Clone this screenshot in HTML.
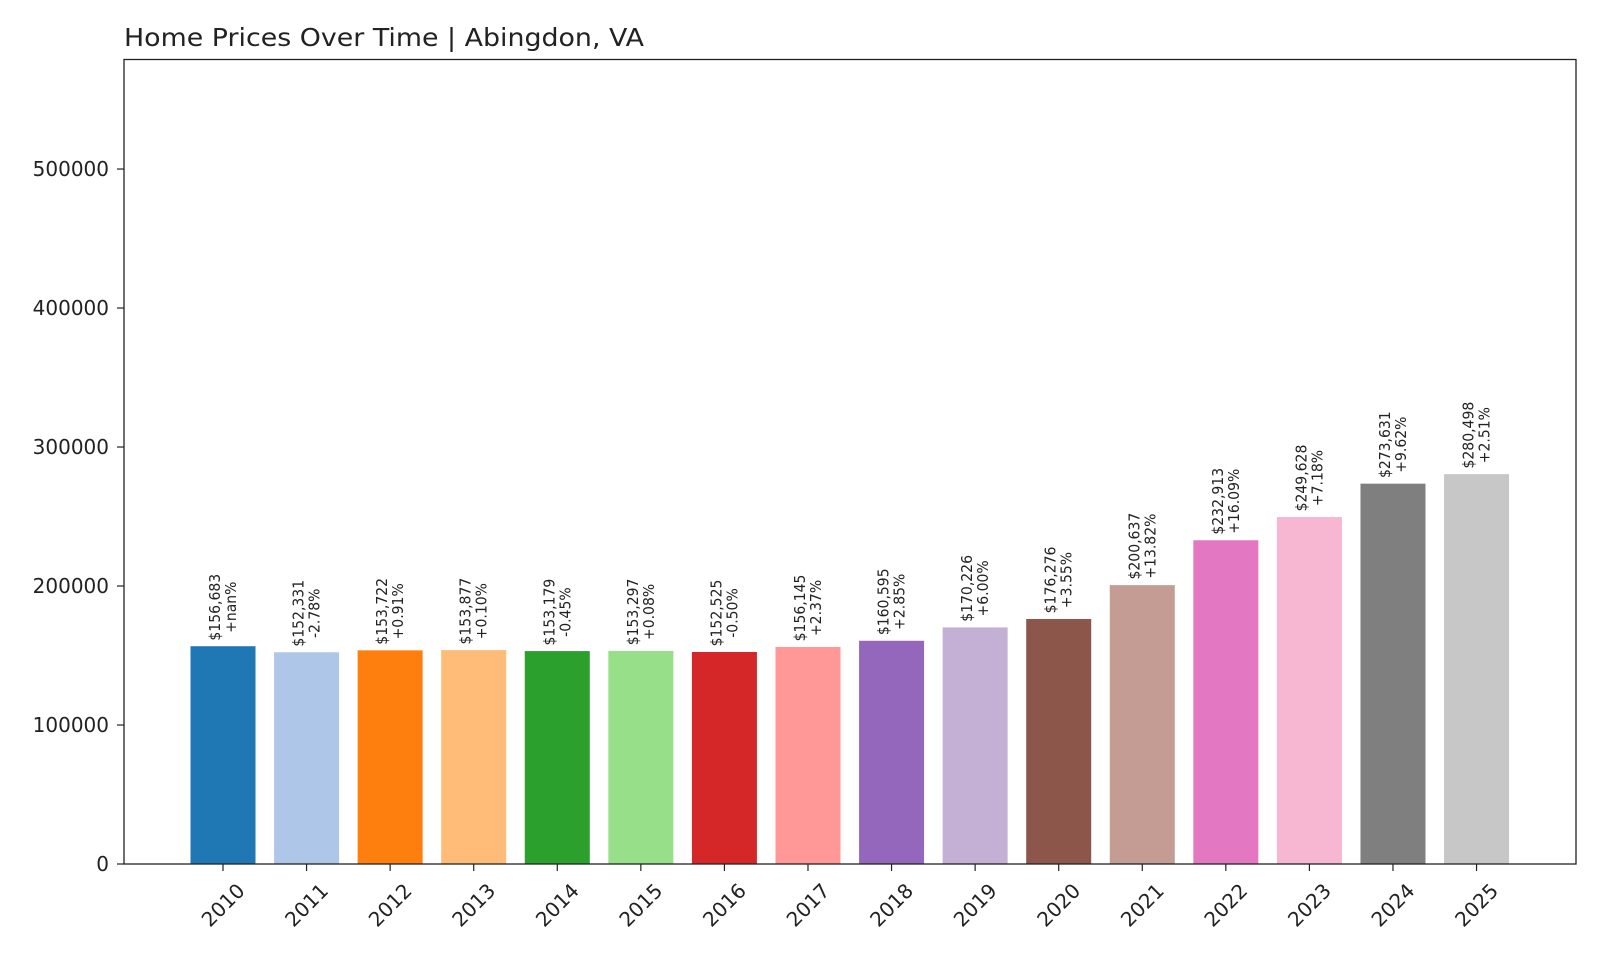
<!DOCTYPE html>
<html><head><meta charset="utf-8"><style>
body{margin:0;background:#fff;}
svg{display:block;font-family:"DejaVu Sans","Liberation Sans",sans-serif;}
</style></head><body>
<svg id="chart" width="1600" height="960" viewBox="0 0 1600 960" xmlns="http://www.w3.org/2000/svg">
<rect width="1600" height="960" fill="#fff"/>
<text x="124" y="46" font-size="25" fill="#222" textLength="520" lengthAdjust="spacingAndGlyphs">Home Prices Over Time | Abingdon, VA</text>
<g id="bars"></g>
<g id="yaxis"></g>
<g id="xaxis"></g>
<rect x="124" y="59.5" width="1452" height="804.5" fill="none" stroke="#222" stroke-width="1.3"/>
</svg>
<script>
const years = ['2010','2011','2012','2013','2014','2015','2016','2017','2018','2019','2020','2021','2022','2023','2024','2025'];
const prices = [156683,152331,153722,153877,153179,153297,152525,156145,160595,170226,176276,200637,232913,249628,273631,280498];
const yTicks = [0,100000,200000,300000,400000,500000];
const colors = ['#1f77b4','#aec7e8','#ff7f0e','#ffbb78','#2ca02c','#98df8a','#d62728','#ff9896','#9467bd','#c5b0d5','#8c564b','#c49c94','#e377c2','#f7b6d2','#7f7f7f','#c7c7c7'];
const NS='http://www.w3.org/2000/svg';
const x0=223, step=83.57, bw=65, yBase=864, yMax=578800, plotH=864-59.5;
function xs(i){return x0+i*step;}
function ys(v){return yBase-v/yMax*plotH;}
function mk(tag,attrs,parent){const e=document.createElementNS(NS,tag);for(const k in attrs)e.setAttribute(k,attrs[k]);parent.appendChild(e);return e;}
const gb=document.getElementById('bars'), gy=document.getElementById('yaxis'), gx=document.getElementById('xaxis');
yTicks.forEach(t=>{
  const y=ys(t);
  const l=mk('line',{x1:117,x2:124,y1:y,y2:y,stroke:'#222','stroke-width':1.2},gy);
  
  
  const tx=mk('text',{x:109,y:y+7,'text-anchor':'end','font-size':20,fill:'#222'},gy);
  tx.textContent=String(t);
  
  
});
prices.forEach((v,i)=>{
  const cx=xs(i), top=ys(v);
  const r=mk('rect',{x:cx-bw/2,y:top,width:bw,height:yBase-top,fill:colors[i]},gb);
  
  
  const pct = i===0 ? '+nan%' : ((v/prices[i-1]-1)*100>=0?'+':'')+((v/prices[i-1]-1)*100).toFixed(2)+'%';
  const lines=['$'+v.toLocaleString('en-US'),pct];
  const cy=top-39;
  [[-3,0],[13,1]].forEach(([dx,k])=>{
    const t=mk('text',{x:0,y:0,'text-anchor':'middle','font-size':14,fill:'#222',transform:`translate(${cx+dx},${cy}) rotate(-90) scale(1,1.05)`},gb);
    t.textContent=lines[k];
    
    
  });
  const tk=mk('line',{x1:cx,x2:cx,y1:864,y2:871,stroke:'#222','stroke-width':1.2},gx);
  
  
  const yl=mk('text',{x:0,y:7,'text-anchor':'middle','font-size':20,fill:'#222',transform:`translate(${cx},905) rotate(-45)`},gx);
  yl.textContent=years[i];
  
  
});
</script>
</body></html>
